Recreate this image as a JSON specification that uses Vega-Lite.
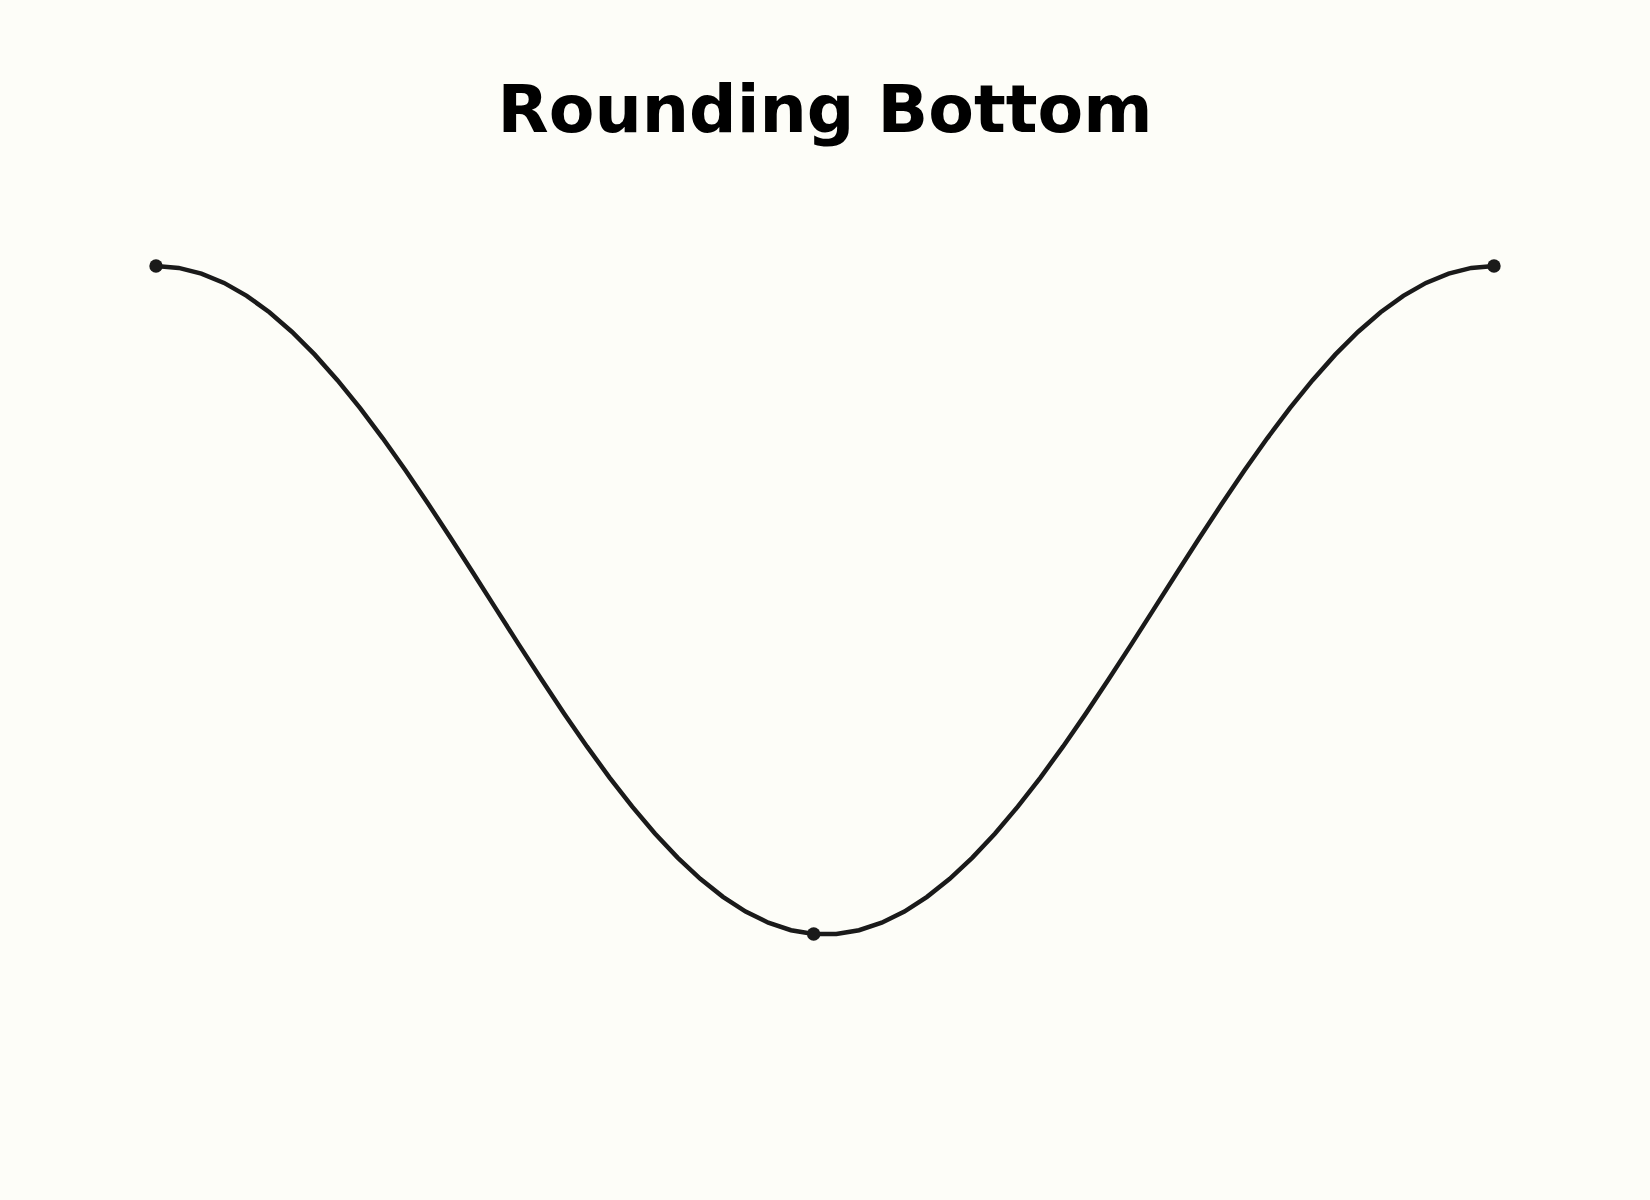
{
  "$schema": "https://vega.github.io/schema/vega-lite/v6.json",
  "width": 1650,
  "height": 1000,
  "autosize": {"type": "none"},
  "padding": {"top": 200, "left": 0, "right": 0, "bottom": 0},
  "background": "#fdfdf8",
  "title": {
    "text": "Rounding Bottom",
    "font": "DejaVu Sans",
    "fontSize": 66.5,
    "fontWeight": "bold",
    "color": "#000000",
    "anchor": "middle",
    "baseline": "alphabetic",
    "offset": 2
  },
  "config": {"view": {"stroke": null}},
  "data": {
    "values": [
      {"t": 0, "price": 1.0, "marker": true},
      {"t": 1, "price": 0.99434},
      {"t": 2, "price": 0.9774},
      {"t": 3, "price": 0.9494},
      {"t": 4, "price": 0.91064},
      {"t": 5, "price": 0.86155},
      {"t": 6, "price": 0.80272},
      {"t": 7, "price": 0.73477},
      {"t": 8, "price": 0.65852},
      {"t": 9, "price": 0.57479},
      {"t": 10, "price": 0.48455},
      {"t": 11, "price": 0.38883},
      {"t": 12, "price": 0.28869},
      {"t": 13, "price": 0.18529},
      {"t": 14, "price": 0.07979},
      {"t": 15, "price": -0.02662},
      {"t": 16, "price": -0.13273},
      {"t": 17, "price": -0.23733},
      {"t": 18, "price": -0.33924},
      {"t": 19, "price": -0.43731},
      {"t": 20, "price": -0.53042},
      {"t": 21, "price": -0.61753},
      {"t": 22, "price": -0.69763},
      {"t": 23, "price": -0.76983},
      {"t": 24, "price": -0.83331},
      {"t": 25, "price": -0.88735},
      {"t": 26, "price": -0.93134},
      {"t": 27, "price": -0.96477},
      {"t": 28, "price": -0.98727},
      {"t": 29, "price": -0.99858, "marker": true},
      {"t": 30, "price": -0.99858},
      {"t": 31, "price": -0.98727},
      {"t": 32, "price": -0.96477},
      {"t": 33, "price": -0.93134},
      {"t": 34, "price": -0.88735},
      {"t": 35, "price": -0.83331},
      {"t": 36, "price": -0.76983},
      {"t": 37, "price": -0.69763},
      {"t": 38, "price": -0.61753},
      {"t": 39, "price": -0.53042},
      {"t": 40, "price": -0.43731},
      {"t": 41, "price": -0.33924},
      {"t": 42, "price": -0.23733},
      {"t": 43, "price": -0.13273},
      {"t": 44, "price": -0.02662},
      {"t": 45, "price": 0.07979},
      {"t": 46, "price": 0.18529},
      {"t": 47, "price": 0.28869},
      {"t": 48, "price": 0.38883},
      {"t": 49, "price": 0.48455},
      {"t": 50, "price": 0.57479},
      {"t": 51, "price": 0.65852},
      {"t": 52, "price": 0.73477},
      {"t": 53, "price": 0.80272},
      {"t": 54, "price": 0.86155},
      {"t": 55, "price": 0.91064},
      {"t": 56, "price": 0.9494},
      {"t": 57, "price": 0.9774},
      {"t": 58, "price": 0.99434},
      {"t": 59, "price": 1.0, "marker": true}
    ]
  },
  "encoding": {
    "x": {
      "field": "t",
      "type": "quantitative",
      "scale": {"domain": [-6.879, 65.879], "nice": false, "zero": false},
      "axis": null
    },
    "y": {
      "field": "price",
      "type": "quantitative",
      "scale": {"domain": [-1.79439, 1.19747], "nice": false, "zero": false},
      "axis": null
    }
  },
  "layer": [
    {
      "mark": {"type": "line", "color": "#1a1a1a", "strokeWidth": 4.5, "strokeJoin": "miter", "strokeCap": "butt"}
    },
    {
      "transform": [{"filter": "datum.marker === true"}],
      "mark": {"type": "circle", "color": "#1a1a1a", "opacity": 1, "size": 180}
    }
  ]
}
